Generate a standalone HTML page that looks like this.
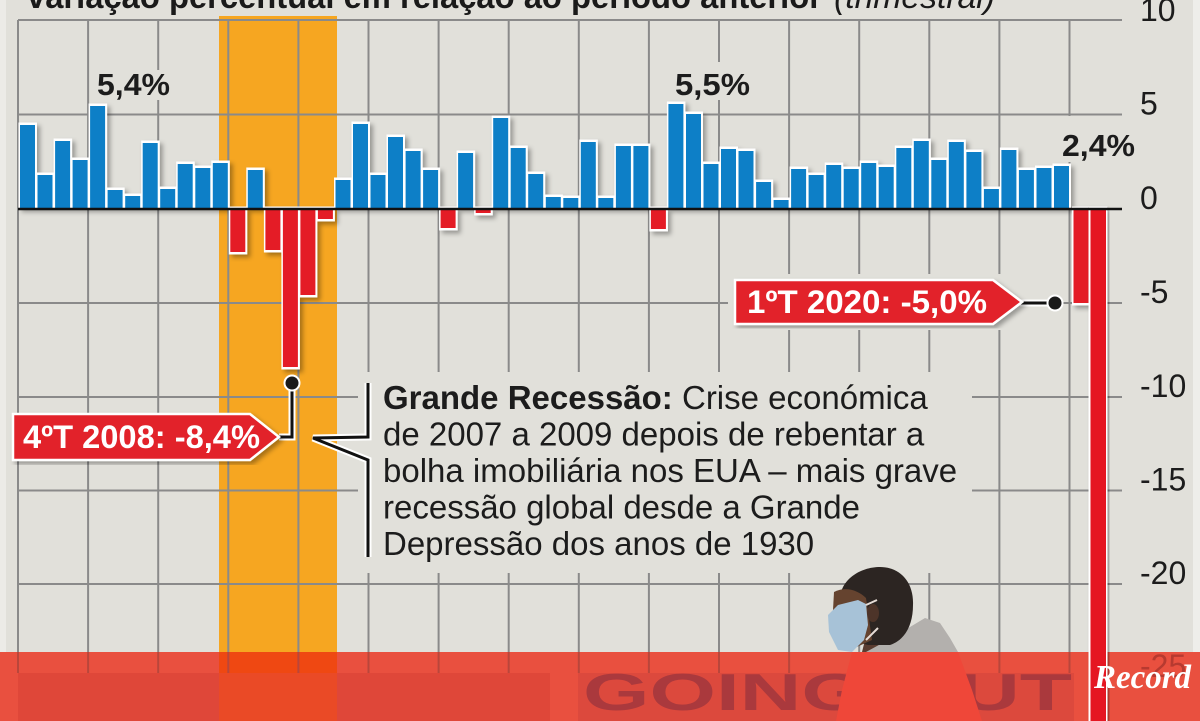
<!DOCTYPE html>
<html>
<head>
<meta charset="utf-8">
<style>
html,body{margin:0;padding:0;background:#e1e0da;overflow:hidden;}
svg{display:block;}
text{font-family:"Liberation Sans",Arial,sans-serif;}
</style>
</head>
<body>
<svg width="1200" height="721" viewBox="0 0 1200 721" xmlns="http://www.w3.org/2000/svg" overflow="hidden">
<defs>
<filter id="sh" x="-10%" y="-10%" width="120%" height="120%">
<feDropShadow dx="3" dy="3" stdDeviation="2.5" flood-color="#000" flood-opacity="0.33"/>
</filter>
<clipPath id="frame"><rect x="0" y="0" width="1200" height="721"/></clipPath>
</defs>
<g clip-path="url(#frame)">
<!-- background -->
<rect x="0" y="0" width="1200" height="721" fill="#e1e0da"/>
<rect x="0" y="0" width="6" height="652" fill="#ecebe7"/>
<rect x="1193" y="0" width="7" height="652" fill="#eeeeea"/>

<!-- title (cut off) -->
<text x="27" y="8" font-weight="bold" font-size="33" fill="#1a1a1a" textLength="795" lengthAdjust="spacingAndGlyphs">variação percentual em relação ao período anterior</text>
<text x="834" y="8" font-style="italic" font-size="33" fill="#1a1a1a" textLength="161" lengthAdjust="spacingAndGlyphs">(trimestral)</text>

<!-- orange recession band -->
<rect x="219" y="16" width="118" height="636" fill="#f6a621"/>

<!-- gridlines -->
<g stroke="#8a8a8a" stroke-width="2">
<line x1="18" y1="20" x2="1122" y2="20"/>
<line x1="18" y1="114.5" x2="1122" y2="114.5"/>
<line x1="18" y1="303" x2="1122" y2="303"/>
<line x1="18" y1="397" x2="1122" y2="397"/>
<line x1="18" y1="490.5" x2="1122" y2="490.5"/>
<line x1="18" y1="584" x2="1122" y2="584"/>
<line x1="18" y1="20" x2="18" y2="673"/>
<line x1="88.1" y1="20" x2="88.1" y2="673"/>
<line x1="158.2" y1="20" x2="158.2" y2="673"/>
<line x1="228.3" y1="20" x2="228.3" y2="673"/>
<line x1="298.4" y1="20" x2="298.4" y2="673"/>
<line x1="368.5" y1="20" x2="368.5" y2="673"/>
<line x1="438.6" y1="20" x2="438.6" y2="673"/>
<line x1="508.7" y1="20" x2="508.7" y2="673"/>
<line x1="578.8" y1="20" x2="578.8" y2="673"/>
<line x1="648.9" y1="20" x2="648.9" y2="673"/>
<line x1="719" y1="20" x2="719" y2="673"/>
<line x1="789.1" y1="20" x2="789.1" y2="673"/>
<line x1="859.2" y1="20" x2="859.2" y2="673"/>
<line x1="929.3" y1="20" x2="929.3" y2="673"/>
<line x1="999.4" y1="20" x2="999.4" y2="673"/>
<line x1="1069.5" y1="20" x2="1069.5" y2="673"/>
</g>

<!-- masks behind labels -->
<g fill="#e1e0da">
<rect x="358" y="372" width="614" height="201"/>
<rect x="728" y="274" width="334" height="56"/>
<rect x="93" y="70" width="82" height="30"/>
<rect x="670" y="62" width="86" height="38"/>
<rect x="1058" y="116" width="82" height="46"/>
</g>

<!-- bars -->
<g filter="url(#sh)">
<g fill="#ffffff">
<rect x="18.5" y="122.5" width="18.5" height="86.5"/>
<rect x="36" y="172.5" width="18.5" height="36.5"/>
<rect x="53.6" y="138.5" width="18.5" height="70.5"/>
<rect x="71.1" y="157.5" width="18.5" height="51.5"/>
<rect x="88.6" y="103.5" width="18.5" height="105.5"/>
<rect x="106.1" y="187.5" width="18.5" height="21.5"/>
<rect x="123.7" y="193.5" width="18.5" height="15.5"/>
<rect x="141.2" y="140.5" width="18.5" height="68.5"/>
<rect x="158.7" y="186.5" width="18.5" height="22.5"/>
<rect x="176.2" y="161.5" width="18.5" height="47.5"/>
<rect x="193.8" y="165.5" width="18.5" height="43.5"/>
<rect x="211.3" y="160.5" width="18.5" height="48.5"/>
<rect x="228.8" y="206.5" width="18.5" height="48"/>
<rect x="246.3" y="167.5" width="18.5" height="41.5"/>
<rect x="263.9" y="206.5" width="18.5" height="46"/>
<rect x="281.4" y="206.5" width="18.5" height="163"/>
<rect x="298.9" y="206.5" width="18.5" height="91"/>
<rect x="316.4" y="206.5" width="18.5" height="15"/>
<rect x="334" y="177.5" width="18.5" height="31.5"/>
<rect x="351.5" y="121.5" width="18.5" height="87.5"/>
<rect x="369" y="172.5" width="18.5" height="36.5"/>
<rect x="386.5" y="134.5" width="18.5" height="74.5"/>
<rect x="404.1" y="148.5" width="18.5" height="60.5"/>
<rect x="421.6" y="167.5" width="18.5" height="41.5"/>
<rect x="439.1" y="206.5" width="18.5" height="24"/>
<rect x="456.6" y="150.5" width="18.5" height="58.5"/>
<rect x="474.2" y="206.5" width="18.5" height="9"/>
<rect x="491.7" y="115.5" width="18.5" height="93.5"/>
<rect x="509.2" y="145.5" width="18.5" height="63.5"/>
<rect x="526.7" y="171.5" width="18.5" height="37.5"/>
<rect x="544.3" y="194.5" width="18.5" height="14.5"/>
<rect x="561.8" y="195.5" width="18.5" height="13.5"/>
<rect x="579.3" y="139.5" width="18.5" height="69.5"/>
<rect x="596.8" y="195.5" width="18.5" height="13.5"/>
<rect x="614.4" y="143.5" width="18.5" height="65.5"/>
<rect x="631.9" y="143.5" width="18.5" height="65.5"/>
<rect x="649.4" y="206.5" width="18.5" height="25"/>
<rect x="666.9" y="101.5" width="18.5" height="107.5"/>
<rect x="684.5" y="111.5" width="18.5" height="97.5"/>
<rect x="702" y="161.5" width="18.5" height="47.5"/>
<rect x="719.5" y="146.5" width="18.5" height="62.5"/>
<rect x="737" y="148.5" width="18.5" height="60.5"/>
<rect x="754.6" y="179.5" width="18.5" height="29.5"/>
<rect x="772.1" y="197.5" width="18.5" height="11.5"/>
<rect x="789.6" y="166.5" width="18.5" height="42.5"/>
<rect x="807.1" y="172.5" width="18.5" height="36.5"/>
<rect x="824.7" y="162.5" width="18.5" height="46.5"/>
<rect x="842.2" y="166.5" width="18.5" height="42.5"/>
<rect x="859.7" y="160.5" width="18.5" height="48.5"/>
<rect x="877.2" y="164.5" width="18.5" height="44.5"/>
<rect x="894.8" y="145.5" width="18.5" height="63.5"/>
<rect x="912.3" y="138.5" width="18.5" height="70.5"/>
<rect x="929.8" y="157.5" width="18.5" height="51.5"/>
<rect x="947.3" y="139.5" width="18.5" height="69.5"/>
<rect x="964.9" y="149.5" width="18.5" height="59.5"/>
<rect x="982.4" y="186.5" width="18.5" height="22.5"/>
<rect x="999.9" y="147.5" width="18.5" height="61.5"/>
<rect x="1017.4" y="167.5" width="18.5" height="41.5"/>
<rect x="1035" y="165.5" width="18.5" height="43.5"/>
<rect x="1052.5" y="163.5" width="18.5" height="45.5"/>
<rect x="1072" y="206.5" width="18" height="99"/>
</g>
<g fill="#0b7fc7">
<rect x="20" y="125" width="15" height="84"/>
<rect x="37.5" y="175" width="15" height="34"/>
<rect x="55.1" y="141" width="15" height="68"/>
<rect x="72.6" y="160" width="15" height="49"/>
<rect x="90.1" y="106" width="15" height="103"/>
<rect x="107.6" y="190" width="15" height="19"/>
<rect x="125.2" y="196" width="15" height="13"/>
<rect x="142.7" y="143" width="15" height="66"/>
<rect x="160.2" y="189" width="15" height="20"/>
<rect x="177.7" y="164" width="15" height="45"/>
<rect x="195.3" y="168" width="15" height="41"/>
<rect x="212.8" y="163" width="15" height="46"/>
<rect x="247.8" y="170" width="15" height="39"/>
<rect x="335.5" y="180" width="15" height="29"/>
<rect x="353" y="124" width="15" height="85"/>
<rect x="370.5" y="175" width="15" height="34"/>
<rect x="388" y="137" width="15" height="72"/>
<rect x="405.6" y="151" width="15" height="58"/>
<rect x="423.1" y="170" width="15" height="39"/>
<rect x="458.1" y="153" width="15" height="56"/>
<rect x="493.2" y="118" width="15" height="91"/>
<rect x="510.7" y="148" width="15" height="61"/>
<rect x="528.2" y="174" width="15" height="35"/>
<rect x="545.8" y="197" width="15" height="12"/>
<rect x="563.3" y="198" width="15" height="11"/>
<rect x="580.8" y="142" width="15" height="67"/>
<rect x="598.3" y="198" width="15" height="11"/>
<rect x="615.9" y="146" width="15" height="63"/>
<rect x="633.4" y="146" width="15" height="63"/>
<rect x="668.4" y="104" width="15" height="105"/>
<rect x="686" y="114" width="15" height="95"/>
<rect x="703.5" y="164" width="15" height="45"/>
<rect x="721" y="149" width="15" height="60"/>
<rect x="738.5" y="151" width="15" height="58"/>
<rect x="756.1" y="182" width="15" height="27"/>
<rect x="773.6" y="200" width="15" height="9"/>
<rect x="791.1" y="169" width="15" height="40"/>
<rect x="808.6" y="175" width="15" height="34"/>
<rect x="826.2" y="165" width="15" height="44"/>
<rect x="843.7" y="169" width="15" height="40"/>
<rect x="861.2" y="163" width="15" height="46"/>
<rect x="878.7" y="167" width="15" height="42"/>
<rect x="896.3" y="148" width="15" height="61"/>
<rect x="913.8" y="141" width="15" height="68"/>
<rect x="931.3" y="160" width="15" height="49"/>
<rect x="948.8" y="142" width="15" height="67"/>
<rect x="966.4" y="152" width="15" height="57"/>
<rect x="983.9" y="189" width="15" height="20"/>
<rect x="1001.4" y="150" width="15" height="59"/>
<rect x="1018.9" y="170" width="15" height="39"/>
<rect x="1036.5" y="168" width="15" height="41"/>
<rect x="1054" y="166" width="15" height="43"/>
</g>
<g fill="#e41e26">
<rect x="230.3" y="209" width="15" height="43"/>
<rect x="265.4" y="209" width="15" height="41"/>
<rect x="282.9" y="209" width="15" height="158"/>
<rect x="300.4" y="209" width="15" height="86"/>
<rect x="317.9" y="209" width="15" height="10"/>
<rect x="440.6" y="209" width="15" height="19"/>
<rect x="475.7" y="209" width="15" height="4"/>
<rect x="650.9" y="209" width="15" height="20"/>
<rect x="1073.5" y="209" width="15" height="94"/>
</g>
</g>

<!-- baseline -->
<line x1="18" y1="209" x2="1122" y2="209" stroke="#111" stroke-width="2.5"/>

<!-- axis labels -->
<g font-size="32" fill="#1c1c1c">
<text x="1140" y="21">10</text>
<text x="1140" y="114.5">5</text>
<text x="1140" y="209">0</text>
<text x="1140" y="303">-5</text>
<text x="1140" y="397">-10</text>
<text x="1140" y="490.5">-15</text>
<text x="1140" y="584">-20</text>
</g>

<!-- value labels -->
<g font-size="31" font-weight="bold" fill="#1c1c1c">
<text x="97" y="95" textLength="73" lengthAdjust="spacingAndGlyphs">5,4%</text>
<text x="675" y="95" textLength="75" lengthAdjust="spacingAndGlyphs">5,5%</text>
<text x="1062" y="156" textLength="73" lengthAdjust="spacingAndGlyphs">2,4%</text>
</g>

<!-- 4T 2008 callout -->
<polyline points="279,437 292,437 292,383" fill="none" stroke="#fff" stroke-width="7"/>
<polyline points="279,437 292,437 292,383" fill="none" stroke="#111" stroke-width="3"/>
<circle cx="292" cy="383" r="7.5" fill="#1a1a1a" stroke="#fff" stroke-width="2"/>
<polygon points="13,414 250,414 279,437 250,460 13,460" fill="#e2202a" stroke="#fff" stroke-width="2.5" filter="url(#sh)"/>
<text x="23" y="448" font-size="32" font-weight="bold" fill="#fff" textLength="237" lengthAdjust="spacingAndGlyphs">4ºT 2008: -8,4%</text>

<!-- 1T 2020 callout -->
<line x1="1020" y1="303" x2="1055" y2="303" stroke="#fff" stroke-width="7"/>
<line x1="1020" y1="303" x2="1055" y2="303" stroke="#111" stroke-width="3"/>
<circle cx="1055" cy="303" r="7.5" fill="#1a1a1a" stroke="#fff" stroke-width="2"/>
<polygon points="735,280 993,280 1022,302 993,324 735,324" fill="#e2202a" stroke="#fff" stroke-width="2.5" filter="url(#sh)"/>
<text x="747" y="313" font-size="32" font-weight="bold" fill="#fff" textLength="240" lengthAdjust="spacingAndGlyphs">1ºT 2020: -5,0%</text>

<!-- Grande Recessão bracket -->
<polyline points="368,383 368,437 313,438 368,460 368,557" fill="none" stroke="#fff" stroke-width="7" stroke-linejoin="miter"/>
<polyline points="368,383 368,437 313,438 368,460 368,557" fill="none" stroke="#111" stroke-width="3" stroke-linejoin="miter"/>
<g font-size="33" fill="#1c1c1c">
<text x="383" y="409"><tspan font-weight="bold">Grande Recessão:</tspan> Crise económica</text>
<text x="383" y="445.5">de 2007 a 2009 depois de rebentar a</text>
<text x="383" y="482">bolha imobiliária nos EUA – mais grave</text>
<text x="383" y="518.5">recessão global desde a Grande</text>
<text x="383" y="555">Depressão dos anos de 1930</text>
</g>

<!-- man (above band) -->
<polygon points="862,652 868,628 895,630 906,645 906,652" fill="#5a3c30"/>
<polygon points="866,652 888,640 905,630 925,618 940,623 950,638 958,652" fill="#b3b0ad"/>
<path d="M840 600 C840 580 860 567 880 567 C900 567 914 582 913 605 C913 625 905 640 890 645 L868 645 L850 640 L836 615 Z" fill="#2c2522"/>
<path d="M834 592 C845 586 858 590 866 598 L872 640 L850 650 L832 628 Z" fill="#65432f"/>
<ellipse cx="873" cy="613" rx="6" ry="9" fill="#4d3429"/>
<polygon points="828,615 838,605 858,600 866,604 868,625 864,640 852,652 838,650 829,632" fill="#a7c2d7"/>
<path d="M866 605 L877 600 M866 640 L878 628" stroke="#e6dcd6" stroke-width="2" fill="none"/>

<!-- bottom red band -->
<rect x="0" y="652" width="1200" height="69" fill="#e9503f"/>
<rect x="18" y="673" width="532" height="48" fill="#df4739"/>
<rect x="219" y="652" width="118" height="21" fill="#ef4812"/>
<rect x="219" y="673" width="118" height="48" fill="#ea4a26"/>
<rect x="578" y="673" width="496" height="48" fill="#dc493d"/>
<text x="583" y="710" font-size="52" font-weight="bold" fill="#aa393d" textLength="489" lengthAdjust="spacingAndGlyphs">GOING OUT</text>
<g stroke="#b9463b" stroke-width="2">
<line x1="18" y1="652" x2="18" y2="673"/>
<line x1="88.1" y1="652" x2="88.1" y2="673"/>
<line x1="158.2" y1="652" x2="158.2" y2="673"/>
<line x1="228.3" y1="652" x2="228.3" y2="673"/>
<line x1="298.4" y1="652" x2="298.4" y2="673"/>
<line x1="368.5" y1="652" x2="368.5" y2="673"/>
<line x1="438.6" y1="652" x2="438.6" y2="673"/>
<line x1="508.7" y1="652" x2="508.7" y2="673"/>
<line x1="578.8" y1="652" x2="578.8" y2="673"/>
<line x1="648.9" y1="652" x2="648.9" y2="673"/>
<line x1="719" y1="652" x2="719" y2="673"/>
<line x1="789.1" y1="652" x2="789.1" y2="673"/>
<line x1="999.4" y1="652" x2="999.4" y2="673"/>
<line x1="1069.5" y1="652" x2="1069.5" y2="673"/>
</g>
<!-- man shirt inside band -->
<polygon points="852,652 958,652 972,690 982,721 836,721 842,690" fill="#ef4739"/>

<!-- 2020 Q2 bar -->
<g filter="url(#sh)">
<rect x="1088.5" y="206.5" width="19" height="514.5" fill="#fff"/>
<rect x="1090.5" y="209" width="15.5" height="512" fill="#e51820"/>
</g>
<line x1="1088" y1="209" x2="1108" y2="209" stroke="#111" stroke-width="2.5"/>

<text x="1140" y="677" font-size="32" fill="#b73a30">-25</text>
<text x="1094" y="688" style="font-family:'Liberation Serif',serif;font-weight:bold;font-style:italic;" font-size="34" fill="#ffffff" textLength="97" lengthAdjust="spacingAndGlyphs">Record</text>
</g>
</svg>
</body>
</html>
